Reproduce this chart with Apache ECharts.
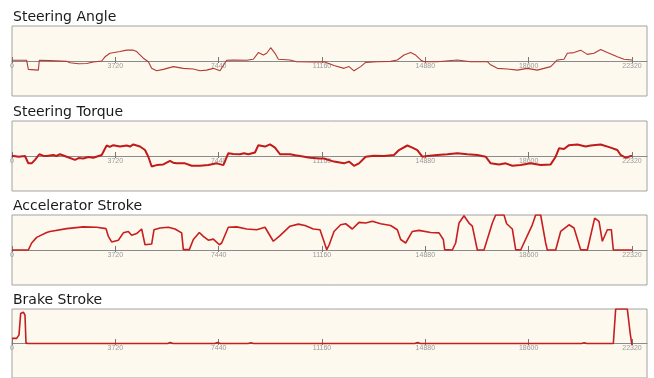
<!DOCTYPE html>
<html>
<head>
<meta charset="utf-8">
<script src="https://cdn.jsdelivr.net/npm/echarts@6/dist/echarts.min.js"></script>
<style>
  html, body { margin: 0; padding: 0; background: #fff; }
  #chart { width: 654px; height: 378px; }
</style>
</head>
<body>
<div id="chart"></div>
<script>
// x axis: sample index, ticks every 3720
const tickValues = [0, 3720, 7440, 11160, 14880, 18600, 22320];
const xMax = 22860;

const titles = ["Steering Angle", "Steering Torque", "Accelerator Stroke", "Brake Stroke"];

// [sample, value], value scaled -100..100
const steeringAngle = [
  [0, 2], [528, 2], [588, -24], [648, -26], [948, -26], [984, 2], [1368, 1], [1968, -1],
  [2088, -5], [2388, -8], [2688, -7], [2928, -3], [3228, 0], [3348, 12], [3528, 22],
  [3888, 27], [4128, 31], [4368, 31], [4488, 27], [4728, 8], [4908, -2], [5028, -21],
  [5208, -28], [5448, -24], [5808, -16], [6168, -21], [6528, -23], [6768, -28], [7008, -26],
  [7248, -21], [7488, -28], [7728, 2], [7968, 3], [8448, 2], [8688, 5], [8868, 24],
  [9048, 17], [9168, 22], [9312, 38], [9468, 22], [9588, 5], [10008, 3], [10248, -2],
  [10848, -3], [11232, -2], [11592, -13], [11952, -21], [12132, -16], [12312, -28],
  [12552, -16], [12732, -4], [13152, -2], [13632, -1], [13872, 3], [14112, 17], [14352, 24],
  [14532, 17], [14712, 3], [14832, -2], [15312, -2], [16032, 3], [16512, -2], [17112, -2],
  [17232, -11], [17472, -21], [17832, -23], [18192, -26], [18552, -21], [18912, -26],
  [19392, -16], [19632, 3], [19872, 5], [19992, 22], [20232, 24], [20472, 31], [20712, 19],
  [20952, 22], [21192, 33], [21432, 24], [21792, 12], [22032, 5], [22320, 3]
];

const steeringTorque = [
  [0, 1], [240, -2], [468, 0], [588, -21], [708, -21], [828, -11], [984, 5], [1120, 1],
  [1248, 0], [1488, 3], [1600, 0], [1728, 5], [1968, -2], [2268, -11], [2400, -6],
  [2568, -7], [2750, -3], [2928, -5], [3228, 3], [3408, 30], [3520, 26], [3648, 31],
  [3888, 27], [4128, 30], [4250, 27], [4368, 33], [4608, 27], [4788, 17], [4908, -2],
  [5028, -30], [5208, -26], [5448, -24], [5688, -14], [5800, -19], [5928, -21], [6228, -21],
  [6468, -28], [6768, -28], [7068, -26], [7368, -21], [7608, -26], [7788, 8], [7968, 6],
  [8208, 5], [8350, 8], [8508, 5], [8748, 10], [8868, 31], [9108, 27], [9288, 33],
  [9468, 24], [9648, 5], [10008, 5], [10200, 2], [10368, 0], [10728, -5], [11088, -7],
  [11232, -7], [11592, -16], [11952, -21], [12132, -16], [12312, -28], [12492, -21],
  [12732, -2], [13032, 1], [13392, 0], [13752, 3], [13932, 17], [14232, 30], [14412, 24],
  [14592, 17], [14772, -2], [14952, 0], [15312, 3], [15672, 5], [16032, 8], [16392, 5],
  [16752, 3], [17052, -2], [17232, -21], [17532, -24], [17772, -21], [18012, -28],
  [18312, -26], [18672, -21], [19032, -26], [19392, -24], [19572, -2], [19692, 22],
  [19872, 20], [20052, 31], [20352, 33], [20652, 27], [20832, 30], [21192, 33],
  [21552, 24], [21792, 17], [21912, 3], [22092, -5], [22320, 1]
];

const acceleratorStroke = [
  [0, 0], [588, 0], [708, 20], [888, 36], [1248, 50], [1368, 53], [1968, 61], [2568, 66],
  [3048, 65], [3384, 61], [3468, 39], [3588, 23], [3828, 28], [4008, 49], [4188, 53],
  [4308, 42], [4488, 47], [4668, 60], [4788, 15], [5028, 17], [5112, 58], [5328, 63],
  [5628, 65], [5868, 60], [6108, 49], [6168, 1], [6384, 1], [6528, 30], [6744, 50],
  [6888, 39], [7068, 28], [7248, 31], [7464, 15], [7548, 20], [7788, 65], [8088, 66],
  [8448, 60], [8808, 58], [9108, 65], [9408, 25], [9648, 41], [10008, 68], [10308, 74],
  [10548, 70], [10848, 60], [11088, 58], [11250, 20], [11330, 1], [11420, 15],
  [11592, 53], [11832, 72], [12012, 75], [12252, 60], [12492, 79], [12732, 77],
  [12972, 82], [13272, 75], [13632, 70], [13872, 58], [13992, 30], [14172, 20],
  [14412, 53], [14652, 56], [15072, 50], [15372, 49], [15528, 30], [15576, 1],
  [15852, 0], [15972, 20], [16092, 77], [16272, 98], [16452, 77], [16572, 68],
  [16752, 0], [16992, 0], [17292, 77], [17412, 100], [17712, 100], [17808, 75],
  [18012, 60], [18132, 1], [18312, 0], [18732, 72], [18852, 100], [19032, 100],
  [19212, 20], [19272, 0], [19572, 0], [19752, 53], [20052, 72], [20232, 63],
  [20472, 1], [20712, 0], [20976, 91], [21132, 82], [21252, 25], [21432, 58],
  [21576, 58], [21648, 0], [22320, 0]
];

const brakeStroke = [
  [0, 15], [168, 15], [252, 25], [312, 87], [408, 91], [468, 82], [504, 1], [588, 0],
  [5600, 0], [5700, 3], [5800, 0], [7300, 0], [7400, 3], [7500, 0], [8500, 0], [8600, 2],
  [8700, 0], [14500, 0], [14600, 3], [14700, 0], [20500, 0], [20600, 2], [20700, 0],
  [21648, 0], [21732, 100], [21852, 100], [22152, 100], [22248, 34], [22300, 5], [22320, -4]
];

const seriesData = [steeringAngle, steeringTorque, acceleratorStroke, brakeStroke];
const lineColors = ["#b23a34", "#c01a1a", "#c81e1e", "#c41e1e"];
const lineWidths = [1.1, 2, 1.6, 1.6];

const gridTops = [26, 121, 215, 309];
const gridHeight = 70;

const chart = echarts.init(document.getElementById("chart"));

const grid = [], xAxis = [], yAxis = [], series = [], title = [];
gridTops.forEach((top, i) => {
  grid.push({
    left: 12, right: 7, top: top, height: gridHeight,
    show: true, backgroundColor: "#fdf9ee", borderColor: "#a3a3a3", borderWidth: 1
  });
  title.push({
    text: titles[i], left: 13, top: top - 16, padding: 0,
    textStyle: { fontFamily: "DejaVu Sans", fontSize: 14, fontWeight: "normal", color: "#1a1a1a" }
  });
  // axis drawn on the zero line: labels and the lower half of each tick
  xAxis.push({
    gridIndex: i, type: "value", min: 0, max: xMax, position: "bottom", offset: -gridHeight / 2,
    axisLine: { onZero: false, lineStyle: { color: "#8a8a8a", width: 1 } },
    axisTick: { customValues: tickValues, length: 2, lineStyle: { color: "#777" } },
    axisLabel: {
      customValues: tickValues, margin: 2, fontSize: 7, color: "#9a9a9a",
      fontFamily: "Liberation Sans", formatter: v => String(v)
    },
    splitLine: { show: false }
  });
  // upper half of the ticks
  xAxis.push({
    gridIndex: i, type: "value", min: 0, max: xMax, position: "bottom", offset: -gridHeight / 2,
    axisLine: { show: false, onZero: false },
    axisTick: { inside: true, customValues: tickValues, length: 4, lineStyle: { color: "#777" } },
    axisLabel: { show: false },
    splitLine: { show: false }
  });
  yAxis.push({ gridIndex: i, type: "value", min: -100, max: 100, show: false });
  series.push({
    type: "line",
    xAxisIndex: i * 2,
    yAxisIndex: i,
    data: seriesData[i],
    showSymbol: false,
    lineStyle: { color: lineColors[i], width: lineWidths[i] },
    z: 3
  });
});

chart.setOption({
  animation: false,
  title: title,
  grid: grid,
  xAxis: xAxis,
  yAxis: yAxis,
  series: series
});
</script>
</body>
</html>
